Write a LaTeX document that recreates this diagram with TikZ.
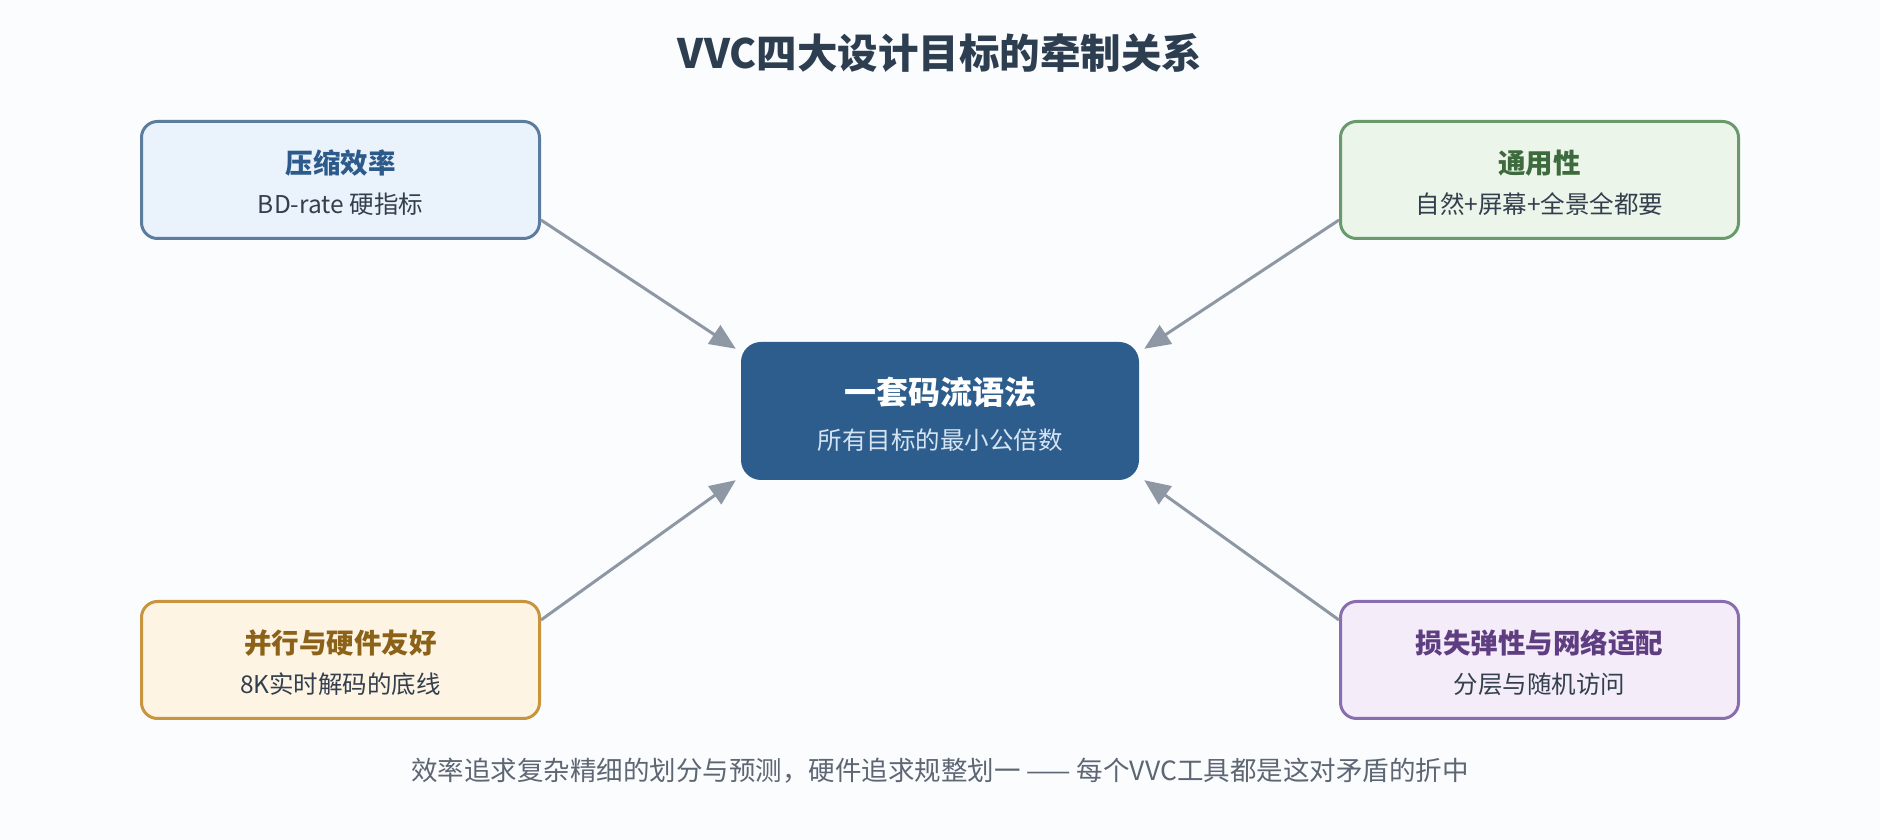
\documentclass[tikz,border=0pt]{standalone}
\usepackage{fontspec}
\setmainfont{Noto Sans CJK SC}
\usetikzlibrary{arrows.meta,calc}
\definecolor{bgc}{HTML}{FBFCFE}
\definecolor{arrowc}{HTML}{8E98A4}
\definecolor{titlec}{HTML}{2C3E50}
\definecolor{subc}{HTML}{333F4D}
\definecolor{footc}{HTML}{5D6673}
\definecolor{tlfill}{HTML}{EAF2FB}
\definecolor{tldraw}{HTML}{5C7C9E}
\definecolor{tltext}{HTML}{2C5A8A}
\definecolor{trfill}{HTML}{EBF5EA}
\definecolor{trdraw}{HTML}{6A9A6C}
\definecolor{trtext}{HTML}{3D6B3D}
\definecolor{blfill}{HTML}{FDF4E4}
\definecolor{bldraw}{HTML}{C8953E}
\definecolor{bltext}{HTML}{8B6218}
\definecolor{brfill}{HTML}{F4ECF9}
\definecolor{brdraw}{HTML}{8A6DAE}
\definecolor{brtext}{HTML}{5E3D80}
\definecolor{cfill}{HTML}{2C5D8C}
\definecolor{csub}{HTML}{D5E4F2}
\tikzset{
  goalbox/.style={rectangle, rounded corners=16pt, line width=3pt,
    minimum width=398pt, minimum height=117pt, inner sep=0pt},
  centerbox/.style={rectangle, rounded corners=20pt, fill=cfill,
    minimum width=398pt, minimum height=138pt, inner sep=0pt},
  goaltitle/.style={font=\fontsize{27.5}{32}\selectfont\bfseries, inner sep=0pt},
  goalsub/.style={font=\fontsize{24.5}{29}\selectfont, text=subc, inner sep=0pt},
  link/.style={draw=arrowc, line width=3pt, -{Triangle[length=26pt,width=22pt]}},
}
\begin{document}
\begin{tikzpicture}[x=1pt,y=1pt]
\fill[bgc] (0,0) rectangle (1880,840);
\useasboundingbox (0,0) rectangle (1880,840);

\node[font=\fontsize{40.5}{46}\selectfont\bfseries, text=titlec, inner sep=0pt] (title) at (940,787) {VVC四大设计目标的牵制关系};

\node[goalbox, fill=tlfill, draw=tldraw] (tl) at (340.5,660) {};
\node[goaltitle, text=tltext] (tlt) at ($(tl.center)+(0,17)$) {压缩效率};
\node[goalsub] (tls) at ($(tl.center)+(0,-24)$) {BD-rate 硬指标};

\node[goalbox, fill=trfill, draw=trdraw] (tr) at (1539.5,660) {};
\node[goaltitle, text=trtext] (trt) at ($(tr.center)+(0,17)$) {通用性};
\node[goalsub] (trs) at ($(tr.center)+(0,-24)$) {自然+屏幕+全景全都要};

\node[goalbox, fill=blfill, draw=bldraw] (bl) at (340.5,180) {};
\node[goaltitle, text=bltext] (blt) at ($(bl.center)+(0,17)$) {并行与硬件友好};
\node[goalsub] (bls) at ($(bl.center)+(0,-24)$) {8K实时解码的底线};

\node[goalbox, fill=brfill, draw=brdraw] (br) at (1539.5,180) {};
\node[goaltitle, text=brtext] (brt) at ($(br.center)+(0,17)$) {损失弹性与网络适配};
\node[goalsub] (brs) at ($(br.center)+(0,-24)$) {分层与随机访问};

\node[centerbox] (c) at (940,429) {};
\node[font=\fontsize{32}{37}\selectfont\bfseries, text=white, inner sep=0pt] (ct) at ($(c.center)+(0,19)$) {一套码流语法};
\node[font=\fontsize{24.5}{29}\selectfont, text=csub, inner sep=0pt] (cs) at ($(c.center)+(0,-29)$) {所有目标的最小公倍数};

\coordinate (a1) at ($(tl.east)+(0,-40)$);
\coordinate (b1) at ($(c.north west)+(-5,-7)$);
\coordinate (a2) at ($(tr.west)+(0,-40)$);
\coordinate (b2) at ($(c.north east)+(5,-7)$);
\coordinate (a3) at ($(bl.east)+(0,40)$);
\coordinate (b3) at ($(c.south west)+(-5,0)$);
\coordinate (a4) at ($(br.west)+(0,40)$);
\coordinate (b4) at ($(c.south east)+(5,0)$);
\draw[link] (a1) -- (b1);
\draw[link] (a2) -- (b2);
\draw[link] (a3) -- (b3);
\draw[link] (a4) -- (b4);

\node[font=\fontsize{26.5}{31}\selectfont, text=footc, inner sep=0pt] (foot) at (940,69) {效率追求复杂精细的划分与预测，硬件追求规整划一 —— 每个VVC工具都是这对矛盾的折中};
\end{tikzpicture}
\end{document}
